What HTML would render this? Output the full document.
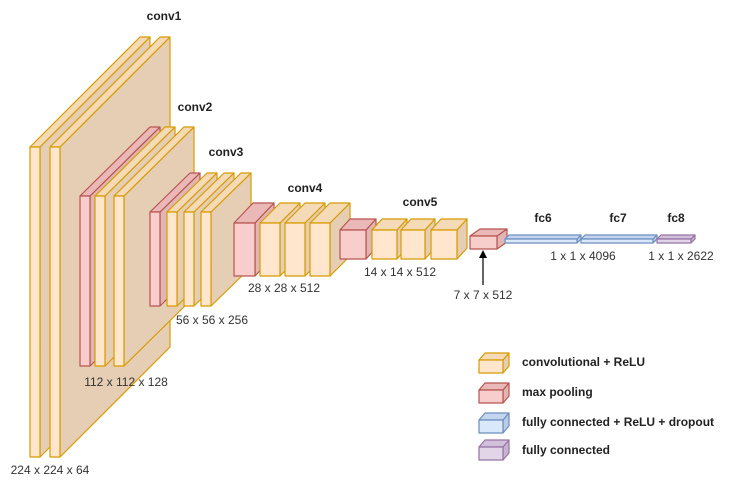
<!DOCTYPE html>
<html><head><meta charset="utf-8"><style>
html,body{margin:0;padding:0;background:#fff;}
svg text{font-family:"Liberation Sans",Arial,sans-serif;font-size:12px;fill:#333;}
.b{font-weight:bold;fill:#222;}
</style></head><body>
<svg id="s" width="731" height="487" viewBox="0 0 731 487" xmlns="http://www.w3.org/2000/svg">
<g id="cubes"></g>
<line x1="483" y1="285" x2="483" y2="256" stroke="#000" stroke-width="1.2"/>
<polygon points="483,250 479,258 487,258" fill="#000"/>
<text class="b" x="164" y="20" text-anchor="middle">conv1</text>
<text class="b" x="195" y="111" text-anchor="middle">conv2</text>
<text class="b" x="226" y="156" text-anchor="middle">conv3</text>
<text class="b" x="305" y="192" text-anchor="middle">conv4</text>
<text class="b" x="420" y="206" text-anchor="middle">conv5</text>
<text class="b" x="543" y="222" text-anchor="middle">fc6</text>
<text class="b" x="618" y="222" text-anchor="middle">fc7</text>
<text class="b" x="676" y="222" text-anchor="middle">fc8</text>
<text x="50" y="474" text-anchor="middle">224 x 224 x 64</text>
<text x="126" y="386" text-anchor="middle">112 x 112 x 128</text>
<text x="212" y="324" text-anchor="middle">56 x 56 x 256</text>
<text x="284" y="292" text-anchor="middle">28 x 28 x 512</text>
<text x="400" y="276" text-anchor="middle">14 x 14 x 512</text>
<text x="483" y="299" text-anchor="middle">7 x 7 x 512</text>
<text x="583" y="260" text-anchor="middle">1 x 1 x 4096</text>
<text x="681" y="260" text-anchor="middle">1 x 1 x 2622</text>
<text class="b" x="522" y="366">convolutional + ReLU</text>
<text class="b" x="522" y="396">max pooling</text>
<text class="b" x="522" y="426">fully connected + ReLU + dropout</text>
<text class="b" x="522" y="454">fully connected</text>
</svg>
<script>
var C={c:['#ffe6cc','#f5dab8','#e6ceb4','#d79b00'],p:['#f8cecc','#eab8b6','#e0b6b4','#b85450'],f:['#dae8fc','#c4d6ef','#b8cce6','#6c8ebf'],u:['#e1d5e7','#d2c0da','#c8b4d0','#9673a6']};
var g=document.getElementById('cubes'),ns='http://www.w3.org/2000/svg';
function poly(pts,fill,st){var p=document.createElementNS(ns,'polygon');p.setAttribute('points',pts.map(function(a){return a.join(',')}).join(' '));p.setAttribute('fill',fill);p.setAttribute('stroke',st);p.setAttribute('stroke-width','1.2');p.setAttribute('stroke-linejoin','round');g.appendChild(p);}
function cube(t,x,y,w,h,dx,dy){var c=C[t];
poly([[x+w,y],[x+w+dx,y-dy],[x+w+dx,y+h-dy],[x+w,y+h]],c[2],c[3]);
poly([[x,y],[x+dx,y-dy],[x+w+dx,y-dy],[x+w,y]],c[1],c[3]);
poly([[x,y],[x+w,y],[x+w,y+h],[x,y+h]],c[0],c[3]);}
cube('c',30,147,10,310,110,110);cube('c',50,147,10,310,110,110);
cube('p',80,196,10,170,70,69);cube('c',95,196,10,170,70,69);cube('c',114,196,10,170,70,69);
cube('p',150,212,10,94,40,39);cube('c',167,212,10,94,40,39);cube('c',184,212,10,94,40,39);cube('c',201,212,10,94,40,39);
cube('p',234,223,21,53,19,20);cube('c',260,223,20,53,20,20);cube('c',285,223,20,53,20,20);cube('c',310,223,20,53,20,20);
cube('p',340,230,26,29,10,11);cube('c',372,230,25,29,10,11);cube('c',401,230,24,29,10,11);cube('c',431,230,26,29,10,11);
cube('p',470,236,27,13,10,7);
cube('f',505,239,72,4,4,4);cube('f',581,239,72,4,4,4);cube('u',657,239,34,4,4,4);
cube('c',479,360,24,13,6,7);cube('p',479,390,24,13,6,7);cube('f',479,420,24,13,6,7);cube('u',479,447,24,13,6,7);
</script>
</body></html>
